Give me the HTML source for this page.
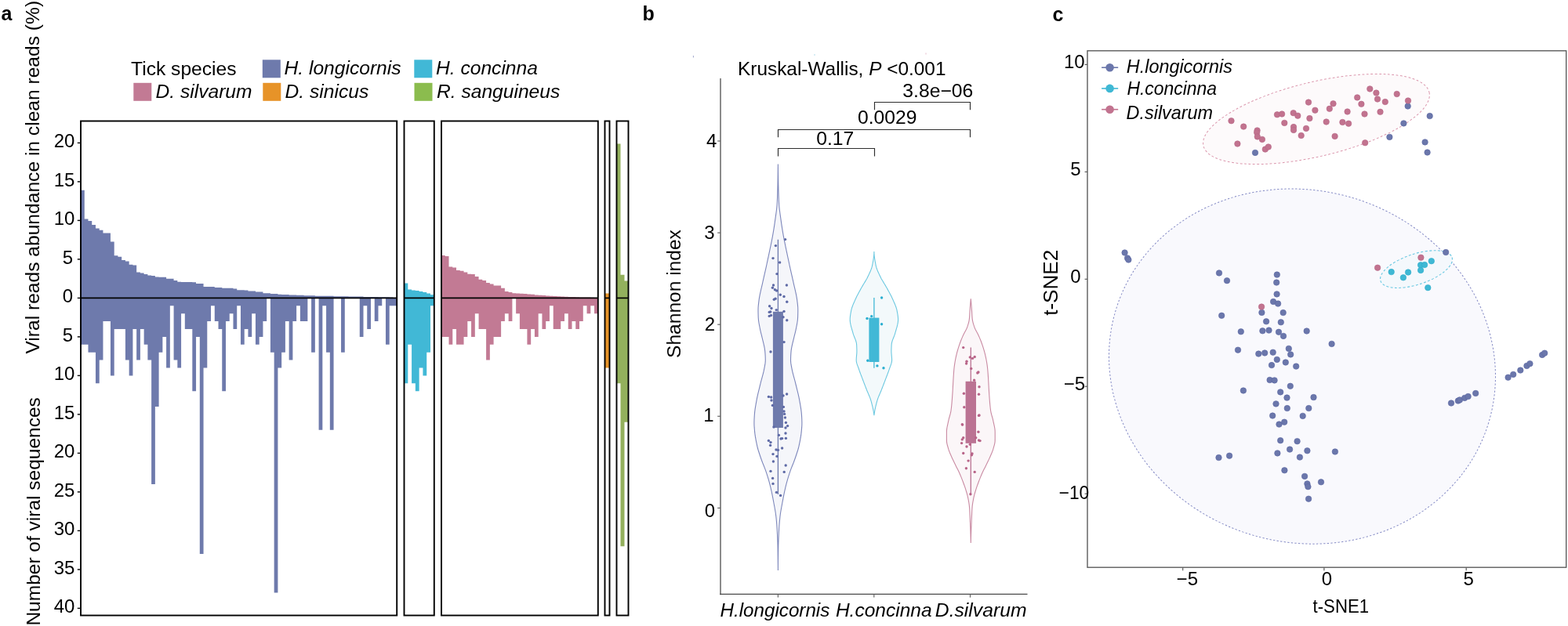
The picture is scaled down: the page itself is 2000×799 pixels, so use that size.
<!DOCTYPE html>
<html><head><meta charset="utf-8"><title>Tick virome figure</title>
<style>html,body{margin:0;padding:0;background:#fff;overflow:hidden;} svg{display:block;} text{font-family:'Liberation Sans', Arial, sans-serif;fill:#000;}</style>
</head><body>
<svg width="2000" height="799" viewBox="0 0 2000 799">
<rect width="2000" height="799" fill="#fff"/>
<g id="pa">
<path d="M103,380.4L103,242.79L107.74,242.79L107.74,279.42L112.49,279.42L112.49,282.09L117.23,282.09L117.23,287.04L121.97,287.04L121.97,291.5L126.72,291.5L126.72,293.87L131.46,293.87L131.46,297.44L136.2,297.44L136.2,297.44L140.95,297.44L140.95,308.43L145.69,308.43L145.69,326.35L150.44,326.35L150.44,327.73L155.18,327.73L155.18,331.99L159.92,331.99L159.92,333.38L164.67,333.38L164.67,337.73L169.41,337.73L169.41,338.62L174.15,338.62L174.15,347.43L178.9,347.43L178.9,348.62L183.64,348.62L183.64,350.01L188.38,350.01L188.38,351.39L193.13,351.39L193.13,351.99L197.87,351.99L197.87,353.47L202.61,353.47L202.61,353.67L207.36,353.67L207.36,353.67L212.1,353.67L212.1,355.85L216.84,355.85L216.84,355.85L221.59,355.85L221.59,358.03L226.33,358.03L226.33,359.81L231.08,359.81L231.08,359.91L235.82,359.91L235.82,360.01L240.56,360.01L240.56,360.1L245.31,360.1L245.31,360.3L250.05,360.3L250.05,362.08L254.79,362.08L254.79,362.08L259.54,362.08L259.54,365.95L264.28,365.95L264.28,365.95L269.02,365.95L269.02,366.04L273.77,366.04L273.77,367.03L278.51,367.03L278.51,367.03L283.25,367.03L283.25,367.73L288,367.73L288,367.73L292.74,367.73L292.74,367.83L297.48,367.83L297.48,368.52L302.23,368.52L302.23,370.3L306.97,370.3L306.97,370.3L311.72,370.3L311.72,370.4L316.46,370.4L316.46,371.59L321.2,371.59L321.2,371.59L325.95,371.59L325.95,372.48L330.69,372.48L330.69,372.48L335.43,372.48L335.43,374.36L340.18,374.36L340.18,374.36L344.92,374.36L344.92,375L349.66,375L349.66,375L354.41,375L354.41,375.65L359.15,375.65L359.15,375.94L363.89,375.94L363.89,375.94L368.64,375.94L368.64,376.44L373.38,376.44L373.38,376.44L378.12,376.44L378.12,376.74L382.87,376.74L382.87,376.74L387.61,376.74L387.61,377.13L392.36,377.13L392.36,377.13L397.1,377.13L397.1,377.13L401.84,377.13L401.84,377.73L406.59,377.73L406.59,377.73L411.33,377.73L411.33,377.73L416.07,377.73L416.07,377.73L420.82,377.73L420.82,377.73L425.56,377.73L425.56,378.22L430.3,378.22L430.3,378.22L435.05,378.22L435.05,378.22L439.79,378.22L439.79,378.22L444.53,378.22L444.53,378.62L449.28,378.62L449.28,378.62L454.02,378.62L454.02,378.62L458.76,378.62L458.76,378.62L463.51,378.62L463.51,378.91L468.25,378.91L468.25,378.91L473,378.91L473,378.91L477.74,378.91L477.74,378.91L482.48,378.91L482.48,379.21L487.23,379.21L487.23,379.21L491.97,379.21L491.97,379.21L496.71,379.21L496.71,379.61L501.46,379.61L501.46,380.4L506.2,380.4L506.2,380.4Z" fill="#6e7aac"/>
<path d="M103,380.4L103,439.8L107.74,439.8L107.74,439.8L112.49,439.8L112.49,449.7L117.23,449.7L117.23,449.7L121.97,449.7L121.97,489.3L126.72,489.3L126.72,459.6L131.46,459.6L131.46,410.1L136.2,410.1L136.2,410.1L140.95,410.1L140.95,479.4L145.69,479.4L145.69,420L150.44,420L150.44,420L155.18,420L155.18,420L159.92,420L159.92,459.6L164.67,459.6L164.67,479.4L169.41,479.4L169.41,420L174.15,420L174.15,459.6L178.9,459.6L178.9,420L183.64,420L183.64,439.8L188.38,439.8L188.38,459.6L193.13,459.6L193.13,618L197.87,618L197.87,519L202.61,519L202.61,449.7L207.36,449.7L207.36,429.9L212.1,429.9L212.1,469.5L216.84,469.5L216.84,390.3L221.59,390.3L221.59,459.6L226.33,459.6L226.33,469.5L231.08,469.5L231.08,400.2L235.82,400.2L235.82,420L240.56,420L240.56,420L245.31,420L245.31,499.2L250.05,499.2L250.05,429.9L254.79,429.9L254.79,707.1L259.54,707.1L259.54,469.5L264.28,469.5L264.28,410.1L269.02,410.1L269.02,390.3L273.77,390.3L273.77,410.1L278.51,410.1L278.51,420L283.25,420L283.25,499.2L288,499.2L288,410.1L292.74,410.1L292.74,400.2L297.48,400.2L297.48,420L302.23,420L302.23,390.3L306.97,390.3L306.97,439.8L311.72,439.8L311.72,420L316.46,420L316.46,429.9L321.2,429.9L321.2,400.2L325.95,400.2L325.95,439.8L330.69,439.8L330.69,429.9L335.43,429.9L335.43,410.1L340.18,410.1L340.18,380.4L344.92,380.4L344.92,449.7L349.66,449.7L349.66,756.6L354.41,756.6L354.41,469.5L359.15,469.5L359.15,449.7L363.89,449.7L363.89,410.1L368.64,410.1L368.64,459.6L373.38,459.6L373.38,410.1L378.12,410.1L378.12,390.3L382.87,390.3L382.87,410.1L387.61,410.1L387.61,410.1L392.36,410.1L392.36,380.4L397.1,380.4L397.1,449.7L401.84,449.7L401.84,380.4L406.59,380.4L406.59,548.7L411.33,548.7L411.33,390.3L416.07,390.3L416.07,449.7L420.82,449.7L420.82,548.7L425.56,548.7L425.56,380.4L430.3,380.4L430.3,380.4L435.05,380.4L435.05,449.7L439.79,449.7L439.79,380.4L444.53,380.4L444.53,380.4L449.28,380.4L449.28,380.4L454.02,380.4L454.02,380.4L458.76,380.4L458.76,429.9L463.51,429.9L463.51,390.3L468.25,390.3L468.25,420L473,420L473,380.4L477.74,380.4L477.74,410.1L482.48,410.1L482.48,390.3L487.23,390.3L487.23,380.4L491.97,380.4L491.97,439.8L496.71,439.8L496.71,390.3L501.46,390.3L501.46,390.3L506.2,390.3L506.2,380.4Z" fill="#6e7aac"/>
<line x1="103.0" y1="380.4" x2="506.2" y2="380.4" stroke="#000" stroke-width="1.7"/>
<rect x="103.0" y="154.5" width="403.2" height="631" fill="none" stroke="#000" stroke-width="1.9"/>
<path d="M515.5,380.4L515.5,361.39L520.29,361.39L520.29,369.51L525.08,369.51L525.08,370.5L529.86,370.5L529.86,370.9L534.65,370.9L534.65,371.98L539.44,371.98L539.44,372.97L544.22,372.97L544.22,374.46L549.01,374.46L549.01,376.24L553.8,376.24L553.8,380.4Z" fill="#41b8d6"/>
<path d="M515.5,380.4L515.5,489.3L520.29,489.3L520.29,439.8L525.08,439.8L525.08,489.3L529.86,489.3L529.86,499.2L534.65,499.2L534.65,469.5L539.44,469.5L539.44,479.4L544.22,479.4L544.22,449.7L549.01,449.7L549.01,390.3L553.8,390.3L553.8,380.4Z" fill="#41b8d6"/>
<line x1="515.5" y1="380.4" x2="553.8" y2="380.4" stroke="#000" stroke-width="1.7"/>
<rect x="515.5" y="154.5" width="38.3" height="631" fill="none" stroke="#000" stroke-width="1.9"/>
<path d="M563,380.4L563,326.05L567.76,326.05L567.76,327.04L572.51,327.04L572.51,340.5L577.27,340.5L577.27,341.49L582.03,341.49L582.03,345.06L586.79,345.06L586.79,345.75L591.54,345.75L591.54,347.53L596.3,347.53L596.3,349.71L601.06,349.71L601.06,350.11L605.81,350.11L605.81,353.08L610.57,353.08L610.57,356.64L615.33,356.64L615.33,358.03L620.09,358.03L620.09,361.09L624.84,361.09L624.84,362.48L629.6,362.48L629.6,364.46L634.36,364.46L634.36,364.56L639.11,364.56L639.11,367.63L643.87,367.63L643.87,371.98L648.63,371.98L648.63,372.97L653.39,372.97L653.39,374.26L658.14,374.26L658.14,374.46L662.9,374.46L662.9,374.66L667.66,374.66L667.66,374.95L672.41,374.95L672.41,375.45L677.17,375.45L677.17,375.75L681.93,375.75L681.93,376.44L686.69,376.44L686.69,376.84L691.44,376.84L691.44,377.03L696.2,377.03L696.2,377.43L700.96,377.43L700.96,377.73L705.71,377.73L705.71,378.02L710.47,378.02L710.47,378.22L715.23,378.22L715.23,378.42L719.99,378.42L719.99,378.72L724.74,378.72L724.74,378.91L729.5,378.91L729.5,379.11L734.26,379.11L734.26,379.31L739.01,379.31L739.01,379.41L743.77,379.41L743.77,379.51L748.53,379.51L748.53,379.61L753.29,379.61L753.29,379.71L758.04,379.71L758.04,379.9L762.8,379.9L762.8,380.4Z" fill="#c27a94"/>
<path d="M563,380.4L563,429.9L567.76,429.9L567.76,429.9L572.51,429.9L572.51,439.8L577.27,439.8L577.27,420L582.03,420L582.03,439.8L586.79,439.8L586.79,439.8L591.54,439.8L591.54,429.9L596.3,429.9L596.3,410.1L601.06,410.1L601.06,429.9L605.81,429.9L605.81,400.2L610.57,400.2L610.57,420L615.33,420L615.33,420L620.09,420L620.09,459.6L624.84,459.6L624.84,439.8L629.6,439.8L629.6,429.9L634.36,429.9L634.36,429.9L639.11,429.9L639.11,410.1L643.87,410.1L643.87,400.2L648.63,400.2L648.63,410.1L653.39,410.1L653.39,380.4L658.14,380.4L658.14,400.2L662.9,400.2L662.9,420L667.66,420L667.66,420L672.41,420L672.41,439.8L677.17,439.8L677.17,420L681.93,420L681.93,429.9L686.69,429.9L686.69,400.2L691.44,400.2L691.44,420L696.2,420L696.2,410.1L700.96,410.1L700.96,390.3L705.71,390.3L705.71,420L710.47,420L710.47,420L715.23,420L715.23,410.1L719.99,410.1L719.99,400.2L724.74,400.2L724.74,420L729.5,420L729.5,410.1L734.26,410.1L734.26,420L739.01,420L739.01,410.1L743.77,410.1L743.77,390.3L748.53,390.3L748.53,400.2L753.29,400.2L753.29,390.3L758.04,390.3L758.04,400.2L762.8,400.2L762.8,380.4Z" fill="#c27a94"/>
<line x1="563.0" y1="380.4" x2="762.8" y2="380.4" stroke="#000" stroke-width="1.7"/>
<rect x="563.0" y="154.5" width="199.8" height="631" fill="none" stroke="#000" stroke-width="1.9"/>
<path d="M771.5,380.4L771.5,374.46L777.5,374.46L777.5,380.4Z" fill="#e79328"/>
<path d="M771.5,380.4L771.5,469.5L777.5,469.5L777.5,380.4Z" fill="#e79328"/>
<line x1="771.5" y1="380.4" x2="777.5" y2="380.4" stroke="#000" stroke-width="1.7"/>
<rect x="771.5" y="154.5" width="6" height="631" fill="none" stroke="#000" stroke-width="1.9"/>
<path d="M786.5,380.4L786.5,183.39L791.5,183.39L791.5,350.7L796.5,350.7L796.5,358.62L801.5,358.62L801.5,380.4Z" fill="#93b05d"/>
<path d="M786.5,380.4L786.5,489.3L791.5,489.3L791.5,697.2L796.5,697.2L796.5,538.8L801.5,538.8L801.5,380.4Z" fill="#93b05d"/>
<line x1="786.5" y1="380.4" x2="801.5" y2="380.4" stroke="#000" stroke-width="1.7"/>
<rect x="786.5" y="154.5" width="15" height="631" fill="none" stroke="#000" stroke-width="1.9"/>
<line x1="98.8" y1="182.4" x2="103" y2="182.4" stroke="#000" stroke-width="1.4"/>
<line x1="98.8" y1="231.9" x2="103" y2="231.9" stroke="#000" stroke-width="1.4"/>
<line x1="98.8" y1="281.4" x2="103" y2="281.4" stroke="#000" stroke-width="1.4"/>
<line x1="98.8" y1="330.9" x2="103" y2="330.9" stroke="#000" stroke-width="1.4"/>
<line x1="98.8" y1="380.4" x2="103" y2="380.4" stroke="#000" stroke-width="1.4"/>
<line x1="98.8" y1="429.9" x2="103" y2="429.9" stroke="#000" stroke-width="1.4"/>
<line x1="98.8" y1="479.4" x2="103" y2="479.4" stroke="#000" stroke-width="1.4"/>
<line x1="98.8" y1="528.9" x2="103" y2="528.9" stroke="#000" stroke-width="1.4"/>
<line x1="98.8" y1="578.4" x2="103" y2="578.4" stroke="#000" stroke-width="1.4"/>
<line x1="98.8" y1="627.9" x2="103" y2="627.9" stroke="#000" stroke-width="1.4"/>
<line x1="98.8" y1="677.4" x2="103" y2="677.4" stroke="#000" stroke-width="1.4"/>
<line x1="98.8" y1="726.9" x2="103" y2="726.9" stroke="#000" stroke-width="1.4"/>
<line x1="98.8" y1="776.4" x2="103" y2="776.4" stroke="#000" stroke-width="1.4"/>
<text id="ay_u20" x="95.4" y="188" font-size="24" text-anchor="end">20</text>
<text id="ay_u15" x="95.4" y="237.5" font-size="24" text-anchor="end">15</text>
<text id="ay_u10" x="95.4" y="287" font-size="24" text-anchor="end">10</text>
<text id="ay_u5" x="93.2" y="336.5" font-size="24" text-anchor="end">5</text>
<text id="ay_u0" x="93.2" y="386" font-size="24" text-anchor="end">0</text>
<text id="ay_l5" x="93.2" y="435.5" font-size="24" text-anchor="end">5</text>
<text id="ay_l10" x="95.4" y="485" font-size="24" text-anchor="end">10</text>
<text id="ay_l15" x="95.4" y="534.5" font-size="24" text-anchor="end">15</text>
<text id="ay_l20" x="95.4" y="584" font-size="24" text-anchor="end">20</text>
<text id="ay_l25" x="95.4" y="633.5" font-size="24" text-anchor="end">25</text>
<text id="ay_l30" x="95.4" y="683" font-size="24" text-anchor="end">30</text>
<text id="ay_l35" x="95.4" y="732.5" font-size="24" text-anchor="end">35</text>
<text id="ay_l40" x="95.4" y="782" font-size="24" text-anchor="end">40</text>
<text id="ylab_a1" transform="translate(50.3,451.6) rotate(-90)" font-size="24.6">Viral reads abundance in clean reads (%)</text>
<text id="ylab_a2" transform="translate(50.6,798.6) rotate(-90)" font-size="24.5">Number of viral sequences</text>
<text id="leg_title" x="167.12" y="96" font-size="24.6">Tick species</text>
<rect x="334.8" y="76.3" width="23" height="23" fill="#6e7aac"/>
<text id="leg_hl" x="362.52" y="95.4" font-size="24.6" font-style="italic">H. longicornis</text>
<rect x="528.3" y="76.3" width="23" height="23" fill="#41b8d6"/>
<text id="leg_hc" x="556.02" y="95.4" font-size="24.6" font-style="italic">H. concinna</text>
<rect x="170.3" y="105.8" width="23" height="23" fill="#c27a94"/>
<text id="leg_ds" x="198.5" y="125.3" font-size="24.6" font-style="italic">D. silvarum</text>
<rect x="335.3" y="105.8" width="23" height="23" fill="#e79328"/>
<text id="leg_dn" x="363.58" y="125.3" font-size="24.6" font-style="italic">D. sinicus</text>
<rect x="528.5" y="105.8" width="23" height="23" fill="#8bbc4e"/>
<text id="leg_rs" x="557" y="125.3" font-size="24.6" font-style="italic">R. sanguineus</text>
</g>
<text id="lbl_a" x="1.48" y="25.5" font-size="25" font-weight="bold">a</text>
<text id="lbl_b" x="819.48" y="26.01" font-size="25" font-weight="bold">b</text>
<text id="lbl_c" x="1342.52" y="27.3" font-size="25" font-weight="bold">c</text>
<g id="pb">
<path d="M992.4,209.6L992.42,212.86L992.46,216.12L992.5,219.38L992.55,222.64L992.6,225.9L992.66,229.16L992.73,232.42L992.8,235.68L992.88,238.94L992.95,242.2L993.04,245.46L993.13,248.72L993.24,251.98L993.37,255.25L993.52,258.51L993.71,261.77L994,265.03L994.38,268.29L994.81,271.55L995.27,274.81L995.73,278.07L996.18,281.33L996.64,284.59L997.12,287.85L997.62,291.11L998.15,294.37L998.69,297.63L999.26,300.89L999.86,304.15L1000.5,307.41L1001.16,310.67L1001.83,313.93L1002.51,317.19L1003.19,320.45L1003.88,323.71L1004.57,326.97L1005.27,330.23L1005.98,333.49L1006.69,336.75L1007.4,340.02L1008.13,343.28L1008.87,346.54L1009.61,349.8L1010.36,353.06L1011.09,356.32L1011.81,359.58L1012.53,362.84L1013.29,366.1L1014.06,369.36L1014.8,372.62L1015.5,375.88L1016.12,379.14L1016.63,382.4L1017.03,385.66L1017.42,388.92L1017.71,392.18L1017.8,395.44L1017.77,398.7L1017.69,401.96L1017.59,405.22L1017.34,408.48L1016.89,411.74L1016.3,415L1015.65,418.26L1014.99,421.52L1014.22,424.78L1013.37,428.05L1012.6,431.31L1011.81,434.57L1011.01,437.83L1010.25,441.09L1009.6,444.35L1009.12,447.61L1008.85,450.87L1008.66,454.13L1008.54,457.39L1008.51,460.65L1008.81,463.91L1009.37,467.17L1009.98,470.43L1010.64,473.69L1011.43,476.95L1012.29,480.21L1013.18,483.47L1014.07,486.73L1014.9,489.99L1015.71,493.25L1016.53,496.51L1017.35,499.77L1018.14,503.03L1018.87,506.29L1019.52,509.55L1020.11,512.82L1020.69,516.08L1021.24,519.34L1021.74,522.6L1022.15,525.86L1022.44,529.12L1022.64,532.38L1022.8,535.64L1022.89,538.9L1022.86,542.16L1022.68,545.42L1022.41,548.68L1022.12,551.94L1021.71,555.2L1021.21,558.46L1020.63,561.72L1019.99,564.98L1019.29,568.24L1018.54,571.5L1017.6,574.76L1016.55,578.02L1015.48,581.28L1014.37,584.54L1013.21,587.8L1011.99,591.06L1010.65,594.32L1009.31,597.58L1008.11,600.85L1007.01,604.11L1005.96,607.37L1004.96,610.63L1004.02,613.89L1003.13,617.15L1002.3,620.41L1001.53,623.67L1000.8,626.93L1000.11,630.19L999.45,633.45L998.82,636.71L998.21,639.97L997.59,643.23L996.98,646.49L996.39,649.75L995.84,653.01L995.35,656.27L994.95,659.53L994.62,662.79L994.33,666.05L994.06,669.31L993.83,672.57L993.62,675.83L993.44,679.09L993.29,682.35L993.15,685.62L993.01,688.88L992.9,692.14L992.8,695.4L992.72,698.66L992.67,701.92L992.61,705.18L992.57,708.44L992.52,711.7L992.48,714.96L992.45,718.22L992.42,721.48L992.41,724.74L992.4,728L992.4,728L992.39,724.74L992.38,721.48L992.35,718.22L992.32,714.96L992.28,711.7L992.23,708.44L992.19,705.18L992.13,701.92L992.08,698.66L992,695.4L991.9,692.14L991.79,688.88L991.65,685.62L991.51,682.35L991.36,679.09L991.18,675.83L990.97,672.57L990.74,669.31L990.47,666.05L990.18,662.79L989.85,659.53L989.45,656.27L988.96,653.01L988.41,649.75L987.82,646.49L987.21,643.23L986.59,639.97L985.98,636.71L985.35,633.45L984.69,630.19L984,626.93L983.27,623.67L982.5,620.41L981.67,617.15L980.78,613.89L979.84,610.63L978.84,607.37L977.79,604.11L976.69,600.85L975.49,597.58L974.15,594.32L972.81,591.06L971.59,587.8L970.43,584.54L969.32,581.28L968.25,578.02L967.2,574.76L966.26,571.5L965.51,568.24L964.81,564.98L964.17,561.72L963.59,558.46L963.09,555.2L962.68,551.94L962.39,548.68L962.12,545.42L961.94,542.16L961.91,538.9L962,535.64L962.16,532.38L962.36,529.12L962.65,525.86L963.06,522.6L963.56,519.34L964.11,516.08L964.69,512.82L965.28,509.55L965.93,506.29L966.66,503.03L967.45,499.77L968.27,496.51L969.09,493.25L969.9,489.99L970.73,486.73L971.62,483.47L972.51,480.21L973.37,476.95L974.16,473.69L974.82,470.43L975.43,467.17L975.99,463.91L976.29,460.65L976.26,457.39L976.14,454.13L975.95,450.87L975.68,447.61L975.2,444.35L974.55,441.09L973.79,437.83L972.99,434.57L972.2,431.31L971.43,428.05L970.58,424.78L969.81,421.52L969.15,418.26L968.5,415L967.91,411.74L967.46,408.48L967.21,405.22L967.11,401.96L967.03,398.7L967,395.44L967.09,392.18L967.38,388.92L967.77,385.66L968.17,382.4L968.68,379.14L969.3,375.88L970,372.62L970.74,369.36L971.51,366.1L972.27,362.84L972.99,359.58L973.71,356.32L974.44,353.06L975.19,349.8L975.93,346.54L976.67,343.28L977.4,340.02L978.11,336.75L978.82,333.49L979.53,330.23L980.23,326.97L980.92,323.71L981.61,320.45L982.29,317.19L982.97,313.93L983.64,310.67L984.3,307.41L984.94,304.15L985.54,300.89L986.11,297.63L986.65,294.37L987.18,291.11L987.68,287.85L988.16,284.59L988.62,281.33L989.07,278.07L989.53,274.81L989.99,271.55L990.42,268.29L990.8,265.03L991.09,261.77L991.28,258.51L991.43,255.25L991.56,251.98L991.67,248.72L991.76,245.46L991.85,242.2L991.92,238.94L992,235.68L992.07,232.42L992.14,229.16L992.2,225.9L992.25,222.64L992.3,219.38L992.34,216.12L992.38,212.86L992.4,209.6Z" fill="#f5f6fa" stroke="#7d87bb" stroke-width="1.1"/>
<path d="M1114.9,320.9L1114.92,322.22L1114.97,323.53L1115.05,324.85L1115.16,326.17L1115.3,327.48L1115.46,328.8L1115.65,330.12L1115.85,331.44L1116.07,332.75L1116.3,334.07L1116.54,335.39L1116.79,336.7L1117.05,338.02L1117.31,339.34L1117.64,340.65L1118.03,341.97L1118.48,343.29L1118.99,344.61L1119.53,345.92L1120.1,347.24L1120.7,348.56L1121.32,349.87L1121.95,351.19L1122.57,352.51L1123.2,353.82L1123.87,355.14L1124.59,356.46L1125.34,357.78L1126.12,359.09L1126.92,360.41L1127.72,361.73L1128.53,363.04L1129.33,364.36L1130.11,365.68L1130.86,366.99L1131.59,368.31L1132.32,369.63L1133.04,370.95L1133.77,372.26L1134.49,373.58L1135.2,374.9L1135.9,376.21L1136.58,377.53L1137.24,378.85L1137.87,380.16L1138.47,381.48L1139.05,382.8L1139.64,384.12L1140.22,385.43L1140.81,386.75L1141.37,388.07L1141.92,389.38L1142.43,390.7L1142.91,392.02L1143.33,393.33L1143.71,394.65L1144.01,395.97L1144.27,397.28L1144.52,398.6L1144.76,399.92L1144.98,401.24L1145.18,402.55L1145.35,403.87L1145.48,405.19L1145.57,406.5L1145.6,407.82L1145.57,409.14L1145.46,410.45L1145.29,411.77L1145.06,413.09L1144.79,414.41L1144.48,415.72L1144.14,417.04L1143.77,418.36L1143.39,419.67L1143,420.99L1142.61,422.31L1142.23,423.62L1141.87,424.94L1141.5,426.26L1141.05,427.58L1140.55,428.89L1140.03,430.21L1139.49,431.53L1138.96,432.84L1138.46,434.16L1138.02,435.48L1137.65,436.79L1137.37,438.11L1137.21,439.43L1137.13,440.75L1137.07,442.06L1137.01,443.38L1136.96,444.7L1136.92,446.01L1136.9,447.33L1136.9,448.65L1136.94,449.96L1137.02,451.28L1137.13,452.6L1137.25,453.92L1137.37,455.23L1137.47,456.55L1137.55,457.87L1137.6,459.18L1137.57,460.5L1137.41,461.82L1137.13,463.13L1136.75,464.45L1136.3,465.77L1135.81,467.08L1135.31,468.4L1134.81,469.72L1134.35,471.04L1133.92,472.35L1133.46,473.67L1132.98,474.99L1132.49,476.3L1131.99,477.62L1131.48,478.94L1130.97,480.25L1130.47,481.57L1129.97,482.89L1129.47,484.21L1128.97,485.52L1128.48,486.84L1127.98,488.16L1127.47,489.47L1126.97,490.79L1126.47,492.11L1125.96,493.42L1125.45,494.74L1124.94,496.06L1124.43,497.38L1123.9,498.69L1123.35,500.01L1122.78,501.33L1122.21,502.64L1121.64,503.96L1121.08,505.28L1120.54,506.59L1120.02,507.91L1119.54,509.23L1119.11,510.55L1118.73,511.86L1118.37,513.18L1118.01,514.5L1117.67,515.81L1117.34,517.13L1117.02,518.45L1116.71,519.76L1116.41,521.08L1116.14,522.4L1115.88,523.72L1115.64,525.03L1115.42,526.35L1115.22,527.67L1115.05,528.98L1114.9,530.3L1114.9,530.3L1114.75,528.98L1114.58,527.67L1114.38,526.35L1114.16,525.03L1113.92,523.72L1113.66,522.4L1113.39,521.08L1113.09,519.76L1112.78,518.45L1112.46,517.13L1112.13,515.81L1111.79,514.5L1111.43,513.18L1111.07,511.86L1110.69,510.55L1110.26,509.23L1109.78,507.91L1109.26,506.59L1108.72,505.28L1108.16,503.96L1107.59,502.64L1107.02,501.33L1106.45,500.01L1105.9,498.69L1105.37,497.38L1104.86,496.06L1104.35,494.74L1103.84,493.42L1103.33,492.11L1102.83,490.79L1102.33,489.47L1101.82,488.16L1101.32,486.84L1100.83,485.52L1100.33,484.21L1099.83,482.89L1099.33,481.57L1098.83,480.25L1098.32,478.94L1097.81,477.62L1097.31,476.3L1096.82,474.99L1096.34,473.67L1095.88,472.35L1095.45,471.04L1094.99,469.72L1094.49,468.4L1093.99,467.08L1093.5,465.77L1093.05,464.45L1092.67,463.13L1092.39,461.82L1092.23,460.5L1092.2,459.18L1092.25,457.87L1092.33,456.55L1092.43,455.23L1092.55,453.92L1092.67,452.6L1092.78,451.28L1092.86,449.96L1092.9,448.65L1092.9,447.33L1092.88,446.01L1092.84,444.7L1092.79,443.38L1092.73,442.06L1092.67,440.75L1092.59,439.43L1092.43,438.11L1092.15,436.79L1091.78,435.48L1091.34,434.16L1090.84,432.84L1090.31,431.53L1089.77,430.21L1089.25,428.89L1088.75,427.58L1088.3,426.26L1087.93,424.94L1087.57,423.62L1087.19,422.31L1086.8,420.99L1086.41,419.67L1086.03,418.36L1085.66,417.04L1085.32,415.72L1085.01,414.41L1084.74,413.09L1084.51,411.77L1084.34,410.45L1084.23,409.14L1084.2,407.82L1084.23,406.5L1084.32,405.19L1084.45,403.87L1084.62,402.55L1084.82,401.24L1085.04,399.92L1085.28,398.6L1085.53,397.28L1085.79,395.97L1086.09,394.65L1086.47,393.33L1086.89,392.02L1087.37,390.7L1087.88,389.38L1088.43,388.07L1088.99,386.75L1089.58,385.43L1090.16,384.12L1090.75,382.8L1091.33,381.48L1091.93,380.16L1092.56,378.85L1093.22,377.53L1093.9,376.21L1094.6,374.9L1095.31,373.58L1096.03,372.26L1096.76,370.95L1097.48,369.63L1098.21,368.31L1098.94,366.99L1099.69,365.68L1100.47,364.36L1101.27,363.04L1102.08,361.73L1102.88,360.41L1103.68,359.09L1104.46,357.78L1105.21,356.46L1105.93,355.14L1106.6,353.82L1107.23,352.51L1107.85,351.19L1108.48,349.87L1109.1,348.56L1109.7,347.24L1110.27,345.92L1110.81,344.61L1111.32,343.29L1111.77,341.97L1112.16,340.65L1112.49,339.34L1112.75,338.02L1113.01,336.7L1113.26,335.39L1113.5,334.07L1113.73,332.75L1113.95,331.44L1114.15,330.12L1114.34,328.8L1114.5,327.48L1114.64,326.17L1114.75,324.85L1114.83,323.53L1114.88,322.22L1114.9,320.9Z" fill="#f3f9fb" stroke="#6cc8e0" stroke-width="1.1"/>
<path d="M1238.3,381.4L1238.47,383.36L1238.64,385.32L1238.8,387.28L1238.96,389.24L1239.12,391.2L1239.27,393.15L1239.41,395.11L1239.55,397.07L1239.67,399.03L1239.77,400.99L1239.88,402.95L1240.02,404.91L1240.2,406.87L1240.47,408.83L1240.87,410.79L1241.38,412.75L1241.96,414.71L1242.59,416.66L1243.28,418.62L1244.17,420.58L1245.21,422.54L1246.3,424.5L1247.36,426.46L1248.3,428.42L1249.15,430.38L1249.98,432.34L1250.78,434.3L1251.54,436.26L1252.26,438.21L1252.94,440.17L1253.6,442.13L1254.24,444.09L1254.84,446.05L1255.4,448.01L1255.92,449.97L1256.42,451.93L1256.89,453.89L1257.34,455.85L1257.75,457.81L1258.12,459.76L1258.46,461.72L1258.78,463.68L1259.07,465.64L1259.34,467.6L1259.57,469.56L1259.77,471.52L1259.94,473.48L1260.09,475.44L1260.23,477.4L1260.36,479.36L1260.49,481.32L1260.61,483.27L1260.73,485.23L1260.83,487.19L1260.94,489.15L1261.04,491.11L1261.14,493.07L1261.24,495.03L1261.35,496.99L1261.46,498.95L1261.58,500.91L1261.71,502.87L1261.85,504.82L1261.98,506.78L1262.12,508.74L1262.26,510.7L1262.42,512.66L1262.58,514.62L1262.76,516.58L1262.95,518.54L1263.16,520.5L1263.4,522.46L1263.66,524.42L1264.03,526.37L1264.5,528.33L1265.04,530.29L1265.6,532.25L1266.14,534.21L1266.62,536.17L1267.03,538.13L1267.47,540.09L1267.91,542.05L1268.33,544.01L1268.7,545.97L1268.98,547.93L1269.16,549.88L1269.2,551.84L1269.2,553.8L1269.2,555.76L1269.2,557.72L1269.2,559.68L1269.2,561.64L1269.12,563.6L1268.84,565.56L1268.41,567.52L1267.88,569.48L1267.33,571.43L1266.77,573.39L1266.12,575.35L1265.36,577.31L1264.53,579.27L1263.66,581.23L1262.8,583.19L1261.93,585.15L1261.01,587.11L1260.07,589.07L1259.11,591.03L1258.14,592.98L1257.19,594.94L1256.21,596.9L1255.22,598.86L1254.23,600.82L1253.29,602.78L1252.39,604.74L1251.55,606.7L1250.74,608.66L1249.95,610.62L1249.19,612.58L1248.45,614.54L1247.72,616.49L1246.99,618.45L1246.28,620.41L1245.6,622.37L1244.95,624.33L1244.35,626.29L1243.77,628.25L1243.21,630.21L1242.69,632.17L1242.2,634.13L1241.78,636.09L1241.41,638.04L1241.05,640L1240.73,641.96L1240.45,643.92L1240.21,645.88L1240.04,647.84L1239.9,649.8L1239.78,651.76L1239.68,653.72L1239.59,655.68L1239.5,657.64L1239.42,659.59L1239.33,661.55L1239.25,663.51L1239.16,665.47L1239.08,667.43L1239,669.39L1238.93,671.35L1238.85,673.31L1238.78,675.27L1238.71,677.23L1238.65,679.19L1238.58,681.15L1238.53,683.1L1238.47,685.06L1238.42,687.02L1238.38,688.98L1238.34,690.94L1238.3,692.9L1238.3,692.9L1238.26,690.94L1238.22,688.98L1238.18,687.02L1238.13,685.06L1238.07,683.1L1238.02,681.15L1237.95,679.19L1237.89,677.23L1237.82,675.27L1237.75,673.31L1237.67,671.35L1237.6,669.39L1237.52,667.43L1237.44,665.47L1237.35,663.51L1237.27,661.55L1237.18,659.59L1237.1,657.64L1237.01,655.68L1236.92,653.72L1236.82,651.76L1236.7,649.8L1236.56,647.84L1236.39,645.88L1236.15,643.92L1235.87,641.96L1235.55,640L1235.19,638.04L1234.82,636.09L1234.4,634.13L1233.91,632.17L1233.39,630.21L1232.83,628.25L1232.25,626.29L1231.65,624.33L1231,622.37L1230.32,620.41L1229.61,618.45L1228.88,616.49L1228.15,614.54L1227.41,612.58L1226.65,610.62L1225.86,608.66L1225.05,606.7L1224.21,604.74L1223.31,602.78L1222.37,600.82L1221.38,598.86L1220.39,596.9L1219.41,594.94L1218.46,592.98L1217.49,591.03L1216.53,589.07L1215.59,587.11L1214.67,585.15L1213.8,583.19L1212.94,581.23L1212.07,579.27L1211.24,577.31L1210.48,575.35L1209.83,573.39L1209.27,571.43L1208.72,569.48L1208.19,567.52L1207.76,565.56L1207.48,563.6L1207.4,561.64L1207.4,559.68L1207.4,557.72L1207.4,555.76L1207.4,553.8L1207.4,551.84L1207.44,549.88L1207.62,547.93L1207.9,545.97L1208.27,544.01L1208.69,542.05L1209.13,540.09L1209.57,538.13L1209.98,536.17L1210.46,534.21L1211,532.25L1211.56,530.29L1212.1,528.33L1212.57,526.37L1212.94,524.42L1213.2,522.46L1213.44,520.5L1213.65,518.54L1213.84,516.58L1214.02,514.62L1214.18,512.66L1214.34,510.7L1214.48,508.74L1214.62,506.78L1214.75,504.82L1214.89,502.87L1215.02,500.91L1215.14,498.95L1215.25,496.99L1215.36,495.03L1215.46,493.07L1215.56,491.11L1215.66,489.15L1215.77,487.19L1215.87,485.23L1215.99,483.27L1216.11,481.32L1216.24,479.36L1216.37,477.4L1216.51,475.44L1216.66,473.48L1216.83,471.52L1217.03,469.56L1217.26,467.6L1217.53,465.64L1217.82,463.68L1218.14,461.72L1218.48,459.76L1218.85,457.81L1219.26,455.85L1219.71,453.89L1220.18,451.93L1220.68,449.97L1221.2,448.01L1221.76,446.05L1222.36,444.09L1223,442.13L1223.66,440.17L1224.34,438.21L1225.06,436.26L1225.82,434.3L1226.62,432.34L1227.45,430.38L1228.3,428.42L1229.24,426.46L1230.3,424.5L1231.39,422.54L1232.43,420.58L1233.32,418.62L1234.01,416.66L1234.64,414.71L1235.22,412.75L1235.73,410.79L1236.13,408.83L1236.4,406.87L1236.58,404.91L1236.72,402.95L1236.83,400.99L1236.93,399.03L1237.05,397.07L1237.19,395.11L1237.33,393.15L1237.48,391.2L1237.64,389.24L1237.8,387.28L1237.96,385.32L1238.13,383.36L1238.3,381.4Z" fill="#fbf6f8" stroke="#c98aa2" stroke-width="1.1"/>
<line x1="992.4" y1="305.8" x2="992.4" y2="631" stroke="#6e7aac" stroke-width="1.3"/><rect x="985.9" y="397.8" width="13" height="148.2" fill="#6e7aac"/>
<line x1="1114.9" y1="380" x2="1114.9" y2="469.8" stroke="#41b8d6" stroke-width="1.3"/><rect x="1108.4" y="405.6" width="13" height="56.4" fill="#41b8d6"/>
<line x1="1238.3" y1="443.6" x2="1238.3" y2="631" stroke="#bb7393" stroke-width="1.3"/><rect x="1231.6" y="486.8" width="13.4" height="79" fill="#bb7393"/>
<circle cx="1001.6" cy="305.6" r="1.7" fill="#5e6aa6"/>
<circle cx="989.4" cy="313.6" r="1.7" fill="#5e6aa6"/>
<circle cx="986" cy="329.6" r="1.7" fill="#5e6aa6"/>
<circle cx="994.6" cy="335" r="1.7" fill="#5e6aa6"/>
<circle cx="991" cy="349.6" r="1.7" fill="#5e6aa6"/>
<circle cx="1003.4" cy="364" r="1.7" fill="#5e6aa6"/>
<circle cx="986.5" cy="364" r="1.7" fill="#5e6aa6"/>
<circle cx="985.4" cy="367.3" r="1.7" fill="#5e6aa6"/>
<circle cx="988.4" cy="369.7" r="1.7" fill="#5e6aa6"/>
<circle cx="990.6" cy="371" r="1.7" fill="#5e6aa6"/>
<circle cx="995.3" cy="376.3" r="1.7" fill="#5e6aa6"/>
<circle cx="1000" cy="378.5" r="1.7" fill="#5e6aa6"/>
<circle cx="987.3" cy="382.3" r="1.7" fill="#5e6aa6"/>
<circle cx="989.1" cy="381.3" r="1.7" fill="#5e6aa6"/>
<circle cx="1003.75" cy="385.25" r="1.7" fill="#5e6aa6"/>
<circle cx="981.6" cy="390.7" r="1.7" fill="#5e6aa6"/>
<circle cx="984" cy="393.5" r="1.7" fill="#5e6aa6"/>
<circle cx="990.25" cy="395.6" r="1.7" fill="#5e6aa6"/>
<circle cx="981.25" cy="398.4" r="1.7" fill="#5e6aa6"/>
<circle cx="982.75" cy="398" r="1.7" fill="#5e6aa6"/>
<circle cx="1000" cy="397.4" r="1.7" fill="#5e6aa6"/>
<circle cx="981.25" cy="403.4" r="1.7" fill="#5e6aa6"/>
<circle cx="983.5" cy="402.5" r="1.7" fill="#5e6aa6"/>
<circle cx="1003.75" cy="408.7" r="1.7" fill="#5e6aa6"/>
<circle cx="999" cy="404.75" r="1.7" fill="#5e6aa6"/>
<circle cx="1000" cy="436.6" r="1.7" fill="#5e6aa6"/>
<circle cx="983" cy="449" r="1.7" fill="#5e6aa6"/>
<circle cx="1003.6" cy="503" r="1.7" fill="#5e6aa6"/>
<circle cx="980.4" cy="506.4" r="1.7" fill="#5e6aa6"/>
<circle cx="983.6" cy="507" r="1.7" fill="#5e6aa6"/>
<circle cx="984" cy="511" r="1.7" fill="#5e6aa6"/>
<circle cx="999" cy="505" r="1.7" fill="#5e6aa6"/>
<circle cx="985.4" cy="517.4" r="1.7" fill="#5e6aa6"/>
<circle cx="999.4" cy="519.4" r="1.7" fill="#5e6aa6"/>
<circle cx="1000" cy="525" r="1.7" fill="#5e6aa6"/>
<circle cx="1000.6" cy="528.4" r="1.7" fill="#5e6aa6"/>
<circle cx="1001.4" cy="533" r="1.7" fill="#5e6aa6"/>
<circle cx="1002.4" cy="539.4" r="1.7" fill="#5e6aa6"/>
<circle cx="1004.6" cy="543.6" r="1.7" fill="#5e6aa6"/>
<circle cx="1002" cy="546" r="1.7" fill="#5e6aa6"/>
<circle cx="987" cy="545" r="1.7" fill="#5e6aa6"/>
<circle cx="1002" cy="553" r="1.7" fill="#5e6aa6"/>
<circle cx="993.4" cy="555.4" r="1.7" fill="#5e6aa6"/>
<circle cx="996" cy="560" r="1.7" fill="#5e6aa6"/>
<circle cx="997.6" cy="559.6" r="1.7" fill="#5e6aa6"/>
<circle cx="1002.4" cy="559.4" r="1.7" fill="#5e6aa6"/>
<circle cx="980.4" cy="562.4" r="1.7" fill="#5e6aa6"/>
<circle cx="983" cy="564.6" r="1.7" fill="#5e6aa6"/>
<circle cx="982.6" cy="568.4" r="1.7" fill="#5e6aa6"/>
<circle cx="990" cy="574" r="1.7" fill="#5e6aa6"/>
<circle cx="992.4" cy="574.4" r="1.7" fill="#5e6aa6"/>
<circle cx="997.6" cy="572" r="1.7" fill="#5e6aa6"/>
<circle cx="986" cy="579.6" r="1.7" fill="#5e6aa6"/>
<circle cx="991" cy="582.4" r="1.7" fill="#5e6aa6"/>
<circle cx="986.4" cy="589" r="1.7" fill="#5e6aa6"/>
<circle cx="1002.2" cy="594" r="1.7" fill="#5e6aa6"/>
<circle cx="983" cy="601.4" r="1.7" fill="#5e6aa6"/>
<circle cx="1000.2" cy="602.4" r="1.7" fill="#5e6aa6"/>
<circle cx="985.6" cy="610.4" r="1.7" fill="#5e6aa6"/>
<circle cx="986" cy="617.4" r="1.7" fill="#5e6aa6"/>
<circle cx="990.4" cy="628.4" r="1.7" fill="#5e6aa6"/>
<circle cx="995.6" cy="632.4" r="1.7" fill="#5e6aa6"/>
<circle cx="1124.6" cy="380" r="1.7" fill="#2aaed0"/>
<circle cx="1106" cy="406.5" r="1.7" fill="#2aaed0"/>
<circle cx="1111.7" cy="403.6" r="1.7" fill="#2aaed0"/>
<circle cx="1124.6" cy="413.7" r="1.7" fill="#2aaed0"/>
<circle cx="1106.8" cy="460.3" r="1.7" fill="#2aaed0"/>
<circle cx="1118.9" cy="466.9" r="1.7" fill="#2aaed0"/>
<circle cx="1127" cy="469.8" r="1.7" fill="#2aaed0"/>
<circle cx="1228.7" cy="443.6" r="1.7" fill="#b86488"/>
<circle cx="1237.3" cy="455.9" r="1.7" fill="#b86488"/>
<circle cx="1240.5" cy="457.4" r="1.7" fill="#b86488"/>
<circle cx="1243.2" cy="455.5" r="1.7" fill="#b86488"/>
<circle cx="1233" cy="461.2" r="1.7" fill="#b86488"/>
<circle cx="1232.6" cy="464" r="1.7" fill="#b86488"/>
<circle cx="1238.7" cy="470.4" r="1.7" fill="#b86488"/>
<circle cx="1247.9" cy="475" r="1.7" fill="#b86488"/>
<circle cx="1246.8" cy="476" r="1.7" fill="#b86488"/>
<circle cx="1242.6" cy="485.3" r="1.7" fill="#b86488"/>
<circle cx="1249" cy="493.8" r="1.7" fill="#b86488"/>
<circle cx="1229.4" cy="502.3" r="1.7" fill="#b86488"/>
<circle cx="1248.5" cy="503.2" r="1.7" fill="#b86488"/>
<circle cx="1229.8" cy="519.8" r="1.7" fill="#b86488"/>
<circle cx="1249" cy="530" r="1.7" fill="#b86488"/>
<circle cx="1227.7" cy="542.1" r="1.7" fill="#b86488"/>
<circle cx="1248.5" cy="530.4" r="1.7" fill="#b86488"/>
<circle cx="1227.3" cy="541.7" r="1.7" fill="#b86488"/>
<circle cx="1247.9" cy="551.3" r="1.7" fill="#b86488"/>
<circle cx="1228.7" cy="558.7" r="1.7" fill="#b86488"/>
<circle cx="1227.3" cy="560.9" r="1.7" fill="#b86488"/>
<circle cx="1244.7" cy="558.7" r="1.7" fill="#b86488"/>
<circle cx="1248.5" cy="562" r="1.7" fill="#b86488"/>
<circle cx="1250" cy="562.6" r="1.7" fill="#b86488"/>
<circle cx="1226.6" cy="565.6" r="1.7" fill="#b86488"/>
<circle cx="1237.3" cy="567.3" r="1.7" fill="#b86488"/>
<circle cx="1233" cy="570" r="1.7" fill="#b86488"/>
<circle cx="1228.7" cy="578.5" r="1.7" fill="#b86488"/>
<circle cx="1240" cy="579" r="1.7" fill="#b86488"/>
<circle cx="1239.4" cy="580.7" r="1.7" fill="#b86488"/>
<circle cx="1235.1" cy="588.1" r="1.7" fill="#b86488"/>
<circle cx="1232.4" cy="597.7" r="1.7" fill="#b86488"/>
<circle cx="1243.2" cy="602.4" r="1.7" fill="#b86488"/>
<circle cx="1237.9" cy="630.7" r="1.7" fill="#b86488"/>
<line x1="919" y1="100" x2="919" y2="759.2" stroke="#646464" stroke-width="1.5"/>
<line x1="918.25" y1="758.4" x2="1310.5" y2="758.4" stroke="#4a4a4a" stroke-width="1.4"/>
<line x1="915.2" y1="648.4" x2="919" y2="648.4" stroke="#646464" stroke-width="1.2"/>
<text id="by0" x="912" y="660" font-size="24" text-anchor="end">0</text>
<line x1="915.2" y1="531.3" x2="919" y2="531.3" stroke="#646464" stroke-width="1.2"/>
<text id="by1" x="910.7" y="538.02" font-size="24" text-anchor="end">1</text>
<line x1="915.2" y1="414.2" x2="919" y2="414.2" stroke="#646464" stroke-width="1.2"/>
<text id="by2" x="912.2" y="421.52" font-size="24" text-anchor="end">2</text>
<line x1="915.2" y1="297.1" x2="919" y2="297.1" stroke="#646464" stroke-width="1.2"/>
<text id="by3" x="911.6" y="304.7" font-size="24" text-anchor="end">3</text>
<line x1="915.2" y1="180" x2="919" y2="180" stroke="#646464" stroke-width="1.2"/>
<text id="by4" x="914.32" y="187.6" font-size="24" text-anchor="end">4</text>
<line x1="992.4" y1="758.5" x2="992.4" y2="762.6" stroke="#646464" stroke-width="1.2"/>
<line x1="1114.8" y1="758.5" x2="1114.8" y2="762.6" stroke="#646464" stroke-width="1.2"/>
<line x1="1237.5" y1="758.5" x2="1237.5" y2="762.6" stroke="#646464" stroke-width="1.2"/>
<text id="bx1" x="918.5" y="786.5" font-size="24.2" font-style="italic">H.longicornis</text>
<text id="bx2" transform="translate(1065.9,786.5) scale(1.0143,1)" font-size="24.2" font-style="italic">H.concinna</text>
<text id="bx3" transform="translate(1192.8,786.5) scale(1.0214,1)" font-size="24.2" font-style="italic">D.silvarum</text>
<text id="ylab_b" transform="translate(867.8,456.9) rotate(-90) scale(1.0145,1)" font-size="24.2">Shannon index</text>
<text id="kw" x="941" y="95.6" font-size="24.4">Kruskal-Wallis, <tspan font-style="italic">P</tspan> &lt;0.001</text>
<path d="M992.5,199.6V189.5H1115.5V199.6" fill="none" stroke="#2e2e2e" stroke-width="1.15"/>
<path d="M992.5,175.3V165.5H1237.5V175.3" fill="none" stroke="#2e2e2e" stroke-width="1.15"/>
<path d="M1115.5,140.2V130.5H1237.5V140.2" fill="none" stroke="#2e2e2e" stroke-width="1.15"/>
<text id="p1" transform="translate(1041.2,185.2) scale(1.0318,1)" font-size="24">0.17</text>
<text id="p2" transform="translate(1094,158.2) scale(1.0286,1)" font-size="24">0.0029</text>
<text id="p3" transform="translate(1151.3,123.8) scale(1.0306,1)" font-size="24">3.8e−06</text>
<line x1="884.4" y1="71" x2="884.4" y2="73.5" stroke="#8890c0" stroke-width="0.8"/>
<line x1="1039" y1="69" x2="1039" y2="71" stroke="#9fd4e6" stroke-width="0.8"/>
<line x1="1181" y1="67.5" x2="1181" y2="69.5" stroke="#e0a8bc" stroke-width="0.8"/>
</g>
<g id="pc">
<ellipse cx="1661" cy="467.6" rx="248.4" ry="224.5" transform="rotate(16.8 1661 467.6)" fill="#f9f9fd" stroke="#868cc6" stroke-width="1.0" stroke-dasharray="2.3 2.3"/>
<ellipse cx="1679" cy="152" rx="148" ry="47.5" transform="rotate(-13.4 1679 152)" fill="#fdfafb" stroke="#db97ad" stroke-width="1.0" stroke-dasharray="2.8 2.6"/>
<ellipse cx="1806.5" cy="343.6" rx="48" ry="19.5" transform="rotate(-18.3 1806.5 343.6)" fill="#f4f8fc" stroke="#6cc9e2" stroke-width="1.1" stroke-dasharray="3 2.4"/>
<circle cx="1601" cy="194.9" r="3.75" fill="#6b77ab" stroke="#5b67a2" stroke-width="0.6"/>
<circle cx="1795.7" cy="135.5" r="3.75" fill="#6b77ab" stroke="#5b67a2" stroke-width="0.6"/>
<circle cx="1790.4" cy="157.4" r="3.75" fill="#6b77ab" stroke="#5b67a2" stroke-width="0.6"/>
<circle cx="1772.4" cy="174.9" r="3.75" fill="#6b77ab" stroke="#5b67a2" stroke-width="0.6"/>
<circle cx="1823.7" cy="148.1" r="3.75" fill="#6b77ab" stroke="#5b67a2" stroke-width="0.6"/>
<circle cx="1817.6" cy="181.4" r="3.75" fill="#6b77ab" stroke="#5b67a2" stroke-width="0.6"/>
<circle cx="1820.6" cy="194.5" r="3.75" fill="#6b77ab" stroke="#5b67a2" stroke-width="0.6"/>
<circle cx="1844.2" cy="322" r="3.75" fill="#6b77ab" stroke="#5b67a2" stroke-width="0.6"/>
<circle cx="1434.6" cy="322.5" r="3.75" fill="#6b77ab" stroke="#5b67a2" stroke-width="0.6"/>
<circle cx="1438.1" cy="329.4" r="3.75" fill="#6b77ab" stroke="#5b67a2" stroke-width="0.6"/>
<circle cx="1439.4" cy="331.6" r="3.75" fill="#6b77ab" stroke="#5b67a2" stroke-width="0.6"/>
<circle cx="1851" cy="514.5" r="3.75" fill="#6b77ab" stroke="#5b67a2" stroke-width="0.6"/>
<circle cx="1859.8" cy="511.6" r="3.75" fill="#6b77ab" stroke="#5b67a2" stroke-width="0.6"/>
<circle cx="1861.9" cy="510.4" r="3.75" fill="#6b77ab" stroke="#5b67a2" stroke-width="0.6"/>
<circle cx="1868.2" cy="507.9" r="3.75" fill="#6b77ab" stroke="#5b67a2" stroke-width="0.6"/>
<circle cx="1872.6" cy="506" r="3.75" fill="#6b77ab" stroke="#5b67a2" stroke-width="0.6"/>
<circle cx="1882.2" cy="502" r="3.75" fill="#6b77ab" stroke="#5b67a2" stroke-width="0.6"/>
<circle cx="1923.6" cy="481.7" r="3.75" fill="#6b77ab" stroke="#5b67a2" stroke-width="0.6"/>
<circle cx="1930.2" cy="477.9" r="3.75" fill="#6b77ab" stroke="#5b67a2" stroke-width="0.6"/>
<circle cx="1939.3" cy="472.6" r="3.75" fill="#6b77ab" stroke="#5b67a2" stroke-width="0.6"/>
<circle cx="1947.4" cy="466.9" r="3.75" fill="#6b77ab" stroke="#5b67a2" stroke-width="0.6"/>
<circle cx="1951.4" cy="464.2" r="3.75" fill="#6b77ab" stroke="#5b67a2" stroke-width="0.6"/>
<circle cx="1967.1" cy="452.9" r="3.75" fill="#6b77ab" stroke="#5b67a2" stroke-width="0.6"/>
<circle cx="1970.2" cy="450.7" r="3.75" fill="#6b77ab" stroke="#5b67a2" stroke-width="0.6"/>
<circle cx="1555" cy="348.4" r="3.75" fill="#6b77ab" stroke="#5b67a2" stroke-width="0.6"/>
<circle cx="1565" cy="358.2" r="3.75" fill="#6b77ab" stroke="#5b67a2" stroke-width="0.6"/>
<circle cx="1628.8" cy="350.6" r="3.75" fill="#6b77ab" stroke="#5b67a2" stroke-width="0.6"/>
<circle cx="1628.2" cy="360.6" r="3.75" fill="#6b77ab" stroke="#5b67a2" stroke-width="0.6"/>
<circle cx="1628.6" cy="375.4" r="3.75" fill="#6b77ab" stroke="#5b67a2" stroke-width="0.6"/>
<circle cx="1624.1" cy="385" r="3.75" fill="#6b77ab" stroke="#5b67a2" stroke-width="0.6"/>
<circle cx="1630.1" cy="387.6" r="3.75" fill="#6b77ab" stroke="#5b67a2" stroke-width="0.6"/>
<circle cx="1609.4" cy="398.9" r="3.75" fill="#6b77ab" stroke="#5b67a2" stroke-width="0.6"/>
<circle cx="1636.7" cy="399.1" r="3.75" fill="#6b77ab" stroke="#5b67a2" stroke-width="0.6"/>
<circle cx="1558.2" cy="402.8" r="3.75" fill="#6b77ab" stroke="#5b67a2" stroke-width="0.6"/>
<circle cx="1615.1" cy="410.3" r="3.75" fill="#6b77ab" stroke="#5b67a2" stroke-width="0.6"/>
<circle cx="1633.8" cy="411.3" r="3.75" fill="#6b77ab" stroke="#5b67a2" stroke-width="0.6"/>
<circle cx="1582.8" cy="423.3" r="3.75" fill="#6b77ab" stroke="#5b67a2" stroke-width="0.6"/>
<circle cx="1610.4" cy="422.3" r="3.75" fill="#6b77ab" stroke="#5b67a2" stroke-width="0.6"/>
<circle cx="1618.5" cy="421.6" r="3.75" fill="#6b77ab" stroke="#5b67a2" stroke-width="0.6"/>
<circle cx="1631" cy="423.8" r="3.75" fill="#6b77ab" stroke="#5b67a2" stroke-width="0.6"/>
<circle cx="1637" cy="428.9" r="3.75" fill="#6b77ab" stroke="#5b67a2" stroke-width="0.6"/>
<circle cx="1666.7" cy="422.5" r="3.75" fill="#6b77ab" stroke="#5b67a2" stroke-width="0.6"/>
<circle cx="1698.6" cy="438.9" r="3.75" fill="#6b77ab" stroke="#5b67a2" stroke-width="0.6"/>
<circle cx="1579" cy="446.7" r="3.75" fill="#6b77ab" stroke="#5b67a2" stroke-width="0.6"/>
<circle cx="1605.3" cy="451.6" r="3.75" fill="#6b77ab" stroke="#5b67a2" stroke-width="0.6"/>
<circle cx="1613.2" cy="450.5" r="3.75" fill="#6b77ab" stroke="#5b67a2" stroke-width="0.6"/>
<circle cx="1623.7" cy="449.7" r="3.75" fill="#6b77ab" stroke="#5b67a2" stroke-width="0.6"/>
<circle cx="1643.8" cy="444.9" r="3.75" fill="#6b77ab" stroke="#5b67a2" stroke-width="0.6"/>
<circle cx="1646.2" cy="452.4" r="3.75" fill="#6b77ab" stroke="#5b67a2" stroke-width="0.6"/>
<circle cx="1628.8" cy="458.9" r="3.75" fill="#6b77ab" stroke="#5b67a2" stroke-width="0.6"/>
<circle cx="1639.8" cy="462.5" r="3.75" fill="#6b77ab" stroke="#5b67a2" stroke-width="0.6"/>
<circle cx="1622" cy="466.1" r="3.75" fill="#6b77ab" stroke="#5b67a2" stroke-width="0.6"/>
<circle cx="1653.2" cy="467.6" r="3.75" fill="#6b77ab" stroke="#5b67a2" stroke-width="0.6"/>
<circle cx="1619.6" cy="485" r="3.75" fill="#6b77ab" stroke="#5b67a2" stroke-width="0.6"/>
<circle cx="1625.6" cy="485.4" r="3.75" fill="#6b77ab" stroke="#5b67a2" stroke-width="0.6"/>
<circle cx="1645.8" cy="492.8" r="3.75" fill="#6b77ab" stroke="#5b67a2" stroke-width="0.6"/>
<circle cx="1585.9" cy="498.5" r="3.75" fill="#6b77ab" stroke="#5b67a2" stroke-width="0.6"/>
<circle cx="1633.2" cy="500.4" r="3.75" fill="#6b77ab" stroke="#5b67a2" stroke-width="0.6"/>
<circle cx="1641.5" cy="507.6" r="3.75" fill="#6b77ab" stroke="#5b67a2" stroke-width="0.6"/>
<circle cx="1675.5" cy="507.1" r="3.75" fill="#6b77ab" stroke="#5b67a2" stroke-width="0.6"/>
<circle cx="1627.5" cy="515.4" r="3.75" fill="#6b77ab" stroke="#5b67a2" stroke-width="0.6"/>
<circle cx="1641.8" cy="521.1" r="3.75" fill="#6b77ab" stroke="#5b67a2" stroke-width="0.6"/>
<circle cx="1669.3" cy="521.1" r="3.75" fill="#6b77ab" stroke="#5b67a2" stroke-width="0.6"/>
<circle cx="1623.2" cy="530.6" r="3.75" fill="#6b77ab" stroke="#5b67a2" stroke-width="0.6"/>
<circle cx="1661.7" cy="530.9" r="3.75" fill="#6b77ab" stroke="#5b67a2" stroke-width="0.6"/>
<circle cx="1631.5" cy="541.6" r="3.75" fill="#6b77ab" stroke="#5b67a2" stroke-width="0.6"/>
<circle cx="1638.2" cy="538.7" r="3.75" fill="#6b77ab" stroke="#5b67a2" stroke-width="0.6"/>
<circle cx="1633.2" cy="562.2" r="3.75" fill="#6b77ab" stroke="#5b67a2" stroke-width="0.6"/>
<circle cx="1654.6" cy="563.2" r="3.75" fill="#6b77ab" stroke="#5b67a2" stroke-width="0.6"/>
<circle cx="1645.1" cy="573.6" r="3.75" fill="#6b77ab" stroke="#5b67a2" stroke-width="0.6"/>
<circle cx="1667.4" cy="575.3" r="3.75" fill="#6b77ab" stroke="#5b67a2" stroke-width="0.6"/>
<circle cx="1702.9" cy="576.5" r="3.75" fill="#6b77ab" stroke="#5b67a2" stroke-width="0.6"/>
<circle cx="1629.4" cy="578.4" r="3.75" fill="#6b77ab" stroke="#5b67a2" stroke-width="0.6"/>
<circle cx="1657.9" cy="583.6" r="3.75" fill="#6b77ab" stroke="#5b67a2" stroke-width="0.6"/>
<circle cx="1554.5" cy="584.1" r="3.75" fill="#6b77ab" stroke="#5b67a2" stroke-width="0.6"/>
<circle cx="1568.1" cy="581.7" r="3.75" fill="#6b77ab" stroke="#5b67a2" stroke-width="0.6"/>
<circle cx="1638.4" cy="600.3" r="3.75" fill="#6b77ab" stroke="#5b67a2" stroke-width="0.6"/>
<circle cx="1664.1" cy="607.9" r="3.75" fill="#6b77ab" stroke="#5b67a2" stroke-width="0.6"/>
<circle cx="1685" cy="615.3" r="3.75" fill="#6b77ab" stroke="#5b67a2" stroke-width="0.6"/>
<circle cx="1667.4" cy="617.4" r="3.75" fill="#6b77ab" stroke="#5b67a2" stroke-width="0.6"/>
<circle cx="1668.4" cy="621.2" r="3.75" fill="#6b77ab" stroke="#5b67a2" stroke-width="0.6"/>
<circle cx="1669.1" cy="636.7" r="3.75" fill="#6b77ab" stroke="#5b67a2" stroke-width="0.6"/>
<circle cx="1570.5" cy="154.2" r="3.75" fill="#c2738f" stroke="#b56484" stroke-width="0.6"/>
<circle cx="1586.2" cy="161.6" r="3.75" fill="#c2738f" stroke="#b56484" stroke-width="0.6"/>
<circle cx="1603.6" cy="166.5" r="3.75" fill="#c2738f" stroke="#b56484" stroke-width="0.6"/>
<circle cx="1603.2" cy="169.1" r="3.75" fill="#c2738f" stroke="#b56484" stroke-width="0.6"/>
<circle cx="1603.8" cy="174.4" r="3.75" fill="#c2738f" stroke="#b56484" stroke-width="0.6"/>
<circle cx="1609.9" cy="177.9" r="3.75" fill="#c2738f" stroke="#b56484" stroke-width="0.6"/>
<circle cx="1578.4" cy="183.5" r="3.75" fill="#c2738f" stroke="#b56484" stroke-width="0.6"/>
<circle cx="1613.8" cy="190.5" r="3.75" fill="#c2738f" stroke="#b56484" stroke-width="0.6"/>
<circle cx="1617.8" cy="187.5" r="3.75" fill="#c2738f" stroke="#b56484" stroke-width="0.6"/>
<circle cx="1629" cy="146.3" r="3.75" fill="#c2738f" stroke="#b56484" stroke-width="0.6"/>
<circle cx="1635.1" cy="145.5" r="3.75" fill="#c2738f" stroke="#b56484" stroke-width="0.6"/>
<circle cx="1638.3" cy="156.9" r="3.75" fill="#c2738f" stroke="#b56484" stroke-width="0.6"/>
<circle cx="1649.7" cy="144.2" r="3.75" fill="#c2738f" stroke="#b56484" stroke-width="0.6"/>
<circle cx="1655.3" cy="147.7" r="3.75" fill="#c2738f" stroke="#b56484" stroke-width="0.6"/>
<circle cx="1650" cy="162.1" r="3.75" fill="#c2738f" stroke="#b56484" stroke-width="0.6"/>
<circle cx="1650" cy="166" r="3.75" fill="#c2738f" stroke="#b56484" stroke-width="0.6"/>
<circle cx="1659.7" cy="173" r="3.75" fill="#c2738f" stroke="#b56484" stroke-width="0.6"/>
<circle cx="1666" cy="163.9" r="3.75" fill="#c2738f" stroke="#b56484" stroke-width="0.6"/>
<circle cx="1670.4" cy="151.1" r="3.75" fill="#c2738f" stroke="#b56484" stroke-width="0.6"/>
<circle cx="1669" cy="130.6" r="3.75" fill="#c2738f" stroke="#b56484" stroke-width="0.6"/>
<circle cx="1677.4" cy="140.7" r="3.75" fill="#c2738f" stroke="#b56484" stroke-width="0.6"/>
<circle cx="1691.7" cy="155.5" r="3.75" fill="#c2738f" stroke="#b56484" stroke-width="0.6"/>
<circle cx="1695.8" cy="138.8" r="3.75" fill="#c2738f" stroke="#b56484" stroke-width="0.6"/>
<circle cx="1700.5" cy="132.3" r="3.75" fill="#c2738f" stroke="#b56484" stroke-width="0.6"/>
<circle cx="1702.6" cy="173.9" r="3.75" fill="#c2738f" stroke="#b56484" stroke-width="0.6"/>
<circle cx="1712.4" cy="156" r="3.75" fill="#c2738f" stroke="#b56484" stroke-width="0.6"/>
<circle cx="1720.1" cy="157.7" r="3.75" fill="#c2738f" stroke="#b56484" stroke-width="0.6"/>
<circle cx="1718.6" cy="142.5" r="3.75" fill="#c2738f" stroke="#b56484" stroke-width="0.6"/>
<circle cx="1731.2" cy="124.4" r="3.75" fill="#c2738f" stroke="#b56484" stroke-width="0.6"/>
<circle cx="1736.4" cy="132.8" r="3.75" fill="#c2738f" stroke="#b56484" stroke-width="0.6"/>
<circle cx="1740.5" cy="145.5" r="3.75" fill="#c2738f" stroke="#b56484" stroke-width="0.6"/>
<circle cx="1741.2" cy="182.3" r="3.75" fill="#c2738f" stroke="#b56484" stroke-width="0.6"/>
<circle cx="1747.3" cy="113.4" r="3.75" fill="#c2738f" stroke="#b56484" stroke-width="0.6"/>
<circle cx="1755.4" cy="118.6" r="3.75" fill="#c2738f" stroke="#b56484" stroke-width="0.6"/>
<circle cx="1757" cy="126.5" r="3.75" fill="#c2738f" stroke="#b56484" stroke-width="0.6"/>
<circle cx="1760.5" cy="142.8" r="3.75" fill="#c2738f" stroke="#b56484" stroke-width="0.6"/>
<circle cx="1766.8" cy="130" r="3.75" fill="#c2738f" stroke="#b56484" stroke-width="0.6"/>
<circle cx="1781.7" cy="120" r="3.75" fill="#c2738f" stroke="#b56484" stroke-width="0.6"/>
<circle cx="1796" cy="128.5" r="3.75" fill="#c2738f" stroke="#b56484" stroke-width="0.6"/>
<circle cx="1757.1" cy="341.7" r="3.75" fill="#c2738f" stroke="#b56484" stroke-width="0.6"/>
<circle cx="1812.4" cy="328.7" r="3.75" fill="#c2738f" stroke="#b56484" stroke-width="0.6"/>
<circle cx="1609.1" cy="391.6" r="3.75" fill="#c2738f" stroke="#b56484" stroke-width="0.6"/>
<circle cx="1774.7" cy="347.1" r="3.75" fill="#3fb8d4" stroke="#2eaccb" stroke-width="0.6"/>
<circle cx="1789.9" cy="354.3" r="3.75" fill="#3fb8d4" stroke="#2eaccb" stroke-width="0.6"/>
<circle cx="1796.1" cy="347.5" r="3.75" fill="#3fb8d4" stroke="#2eaccb" stroke-width="0.6"/>
<circle cx="1812.1" cy="338.3" r="3.75" fill="#3fb8d4" stroke="#2eaccb" stroke-width="0.6"/>
<circle cx="1817.1" cy="338" r="3.75" fill="#3fb8d4" stroke="#2eaccb" stroke-width="0.6"/>
<circle cx="1812.1" cy="345" r="3.75" fill="#3fb8d4" stroke="#2eaccb" stroke-width="0.6"/>
<circle cx="1825.8" cy="333.2" r="3.75" fill="#3fb8d4" stroke="#2eaccb" stroke-width="0.6"/>
<circle cx="1821.3" cy="367.2" r="3.75" fill="#3fb8d4" stroke="#2eaccb" stroke-width="0.6"/>
<rect x="1387" y="64.8" width="610.7" height="659.4" fill="none" stroke="#5c5c5c" stroke-width="1.4"/>
<line x1="1405.1" y1="86.2" x2="1426.2" y2="86.2" stroke="#6b77ab" stroke-width="1.6"/>
<circle cx="1415.6" cy="86.2" r="5.3" fill="#6b77ab"/>
<text id="cl1" x="1436.8" y="93.2" font-size="23.4" font-style="italic">H.longicornis</text>
<line x1="1405.1" y1="112.9" x2="1426.2" y2="112.9" stroke="#3fb8d4" stroke-width="1.6"/>
<circle cx="1415.6" cy="112.9" r="5.3" fill="#3fb8d4"/>
<text id="cl2" transform="translate(1437.4,120.8) scale(0.9802,1)" font-size="23.4" font-style="italic">H.concinna</text>
<line x1="1405.1" y1="139.7" x2="1426.2" y2="139.7" stroke="#c2738f" stroke-width="1.6"/>
<circle cx="1415.6" cy="139.7" r="5.3" fill="#c2738f"/>
<text id="cl3" x="1436.6" y="151.6" font-size="23.4" font-style="italic">D.silvarum</text>
<line x1="1383.6" y1="82.4" x2="1387" y2="82.4" stroke="#5c5c5c" stroke-width="1.2"/>
<text id="cy10" x="1383.6" y="87.2" font-size="24" text-anchor="end">10</text>
<line x1="1383.6" y1="219.35" x2="1387" y2="219.35" stroke="#5c5c5c" stroke-width="1.2"/>
<text id="cy5" x="1378.6" y="224.15" font-size="24" text-anchor="end">5</text>
<line x1="1383.6" y1="356.3" x2="1387" y2="356.3" stroke="#5c5c5c" stroke-width="1.2"/>
<text id="cy0" x="1378.6" y="361.3" font-size="24" text-anchor="end">0</text>
<line x1="1383.6" y1="493.25" x2="1387" y2="493.25" stroke="#5c5c5c" stroke-width="1.2"/>
<text id="cy-5" x="1384" y="498.05" font-size="24" text-anchor="end">−5</text>
<line x1="1383.6" y1="630.2" x2="1387" y2="630.2" stroke="#5c5c5c" stroke-width="1.2"/>
<text id="cy-10" transform="translate(1389.2,637.4) scale(0.9481,1)" font-size="24" text-anchor="end">−10</text>
<line x1="1508.7" y1="724.2" x2="1508.7" y2="728.2" stroke="#5c5c5c" stroke-width="1.2"/>
<text id="cx0" x="1514.3" y="747" font-size="24" text-anchor="middle">−5</text>
<line x1="1688.9" y1="724.2" x2="1688.9" y2="728.2" stroke="#5c5c5c" stroke-width="1.2"/>
<text id="cx1" x="1692.4" y="747" font-size="24" text-anchor="middle">0</text>
<line x1="1870.2" y1="724.2" x2="1870.2" y2="728.2" stroke="#5c5c5c" stroke-width="1.2"/>
<text id="cx2" x="1873.1" y="747" font-size="24" text-anchor="middle">5</text>
<text id="xlab_c" transform="translate(1710.3,781.6) scale(0.9237,1)" font-size="24" text-anchor="middle">t-SNE1</text>
<text id="ylab_c" transform="translate(1348.7,360.8) rotate(-90) scale(1.0235,1)" font-size="25.5" text-anchor="middle">t-SNE2</text>
</g>
</svg>
</body></html>
